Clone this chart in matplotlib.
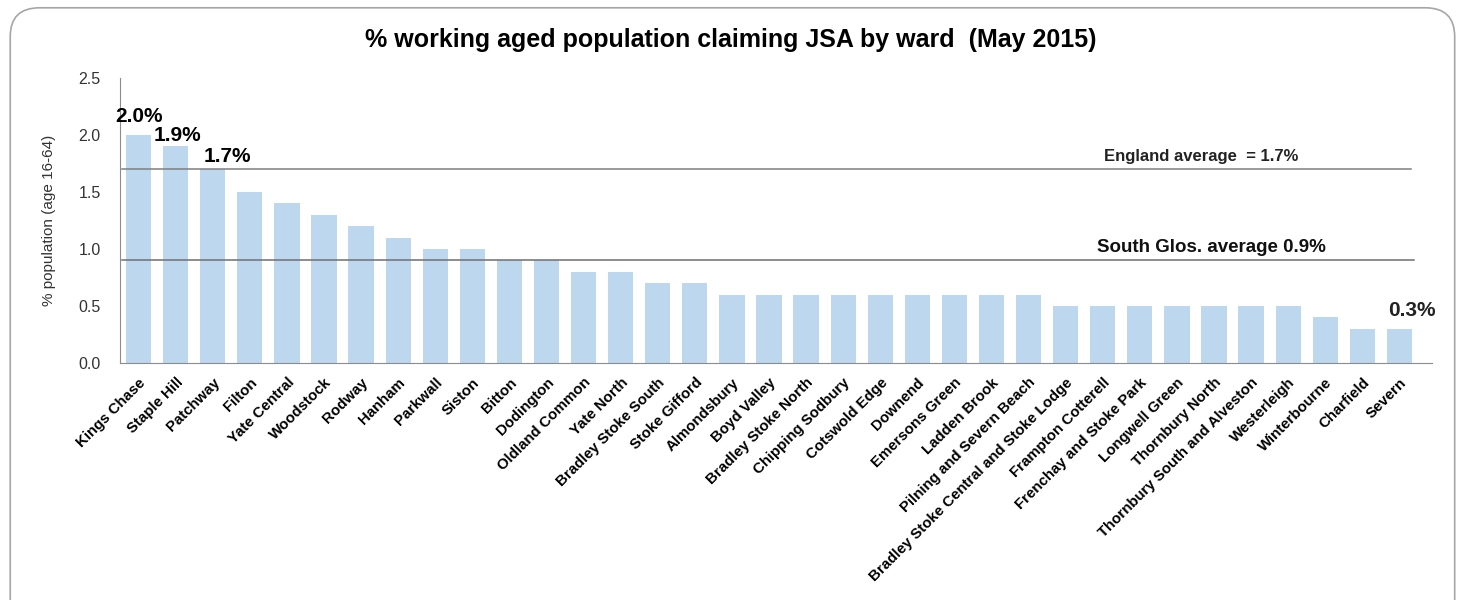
import matplotlib.pyplot as plt
from matplotlib.patches import FancyBboxPatch

plt.rcParams['font.family'] = ['Liberation Sans', 'DejaVu Sans']

wards = ['Kings Chase', 'Staple Hill', 'Patchway', 'Filton', 'Yate Central', 'Woodstock',
         'Rodway', 'Hanham', 'Parkwall', 'Siston', 'Bitton', 'Dodington', 'Oldland Common',
         'Yate North', 'Bradley Stoke South', 'Stoke Gifford', 'Almondsbury', 'Boyd Valley',
         'Bradley Stoke North', 'Chipping Sodbury', 'Cotswold Edge', 'Downend',
         'Emersons Green', 'Ladden Brook', 'Pilning and Severn Beach',
         'Bradley Stoke Central and Stoke Lodge', 'Frampton Cotterell',
         'Frenchay and Stoke Park', 'Longwell Green', 'Thornbury North',
         'Thornbury South and Alveston', 'Westerleigh', 'Winterbourne', 'Charfield', 'Severn']
pct = [2.0, 1.9, 1.7, 1.5, 1.4, 1.3, 1.2, 1.1, 1.0, 1.0, 0.9, 0.9, 0.8, 0.8, 0.7, 0.7,
       0.6, 0.6, 0.6, 0.6, 0.6, 0.6, 0.6, 0.6, 0.6, 0.5, 0.5, 0.5, 0.5, 0.5, 0.5, 0.5,
       0.4, 0.3, 0.3]
england_avg = 1.7
sglos_avg = 0.9

fig = plt.figure(figsize=(14.62, 6), dpi=100)

# rounded chart frame
frame = FancyBboxPatch((0.007, -0.05), 0.988, 1.037, transform=fig.transFigure,
                       boxstyle='round,pad=0,rounding_size=0.02', facecolor='none',
                       edgecolor='#a6a6a6', linewidth=1.2, mutation_aspect=2.4, zorder=5)
fig.patches.append(frame)

ax = fig.add_axes([0.0821, 0.395, 0.8974, 0.475])
x = range(len(wards))
ax.bar(x, pct, width=0.68, color='#bdd7ee', zorder=2)

ax.set_xlim(-0.5, 34.88)
ax.set_ylim(0, 2.5)
ax.set_yticks([0, 0.5, 1.0, 1.5, 2.0, 2.5])
ax.set_yticklabels(['0.0', '0.5', '1.0', '1.5', '2.0', '2.5'], fontsize=11.5, color='#333333')
ax.tick_params(axis='y', length=0, pad=14)
ax.tick_params(axis='x', length=0, pad=9)
ax.set_xticks(list(x))
ax.set_xticklabels(wards, rotation=45, ha='right', rotation_mode='anchor',
                   fontsize=10.8, fontweight='bold')
for s in ['top', 'right']:
    ax.spines[s].set_visible(False)
for s in ['left', 'bottom']:
    ax.spines[s].set_color('#8c8c8c')

ax.set_ylabel('% population (age 16-64)', fontsize=11, labelpad=16, color='#333333')

# average lines
ax.plot([-0.45, 34.3], [england_avg, england_avg], color='#7f7f7f', lw=1.1, zorder=3)
ax.plot([-0.45, 34.4], [sglos_avg, sglos_avg], color='#6f6f6f', lw=1.1, zorder=3)
ax.text(28.65, england_avg + 0.05, 'England average  = 1.7%', ha='center', va='bottom',
        fontsize=12, fontweight='bold', color='#222222')
ax.text(28.92, sglos_avg + 0.04, 'South Glos. average 0.9%', ha='center', va='bottom',
        fontsize=13.5, fontweight='bold', color='#111111')

# value labels
ax.text(0, pct[0] + 0.08, '2.0%', ha='center', va='bottom', fontsize=15, fontweight='bold')
ax.text(1.05, pct[1] + 0.01, '1.9%', ha='center', va='bottom', fontsize=15, fontweight='bold')
ax.text(2.4, pct[2] + 0.03, '1.7%', ha='center', va='bottom', fontsize=15, fontweight='bold')
ax.text(34.35, pct[34] + 0.08, '0.3%', ha='center', va='bottom', fontsize=15, fontweight='bold',
        color='#222222')

fig.text(0.5, 0.933, '% working aged population claiming JSA by ward  (May 2015)',
         ha='center', va='center', fontsize=18, fontweight='bold')

fig.savefig('out.png', dpi=100)
